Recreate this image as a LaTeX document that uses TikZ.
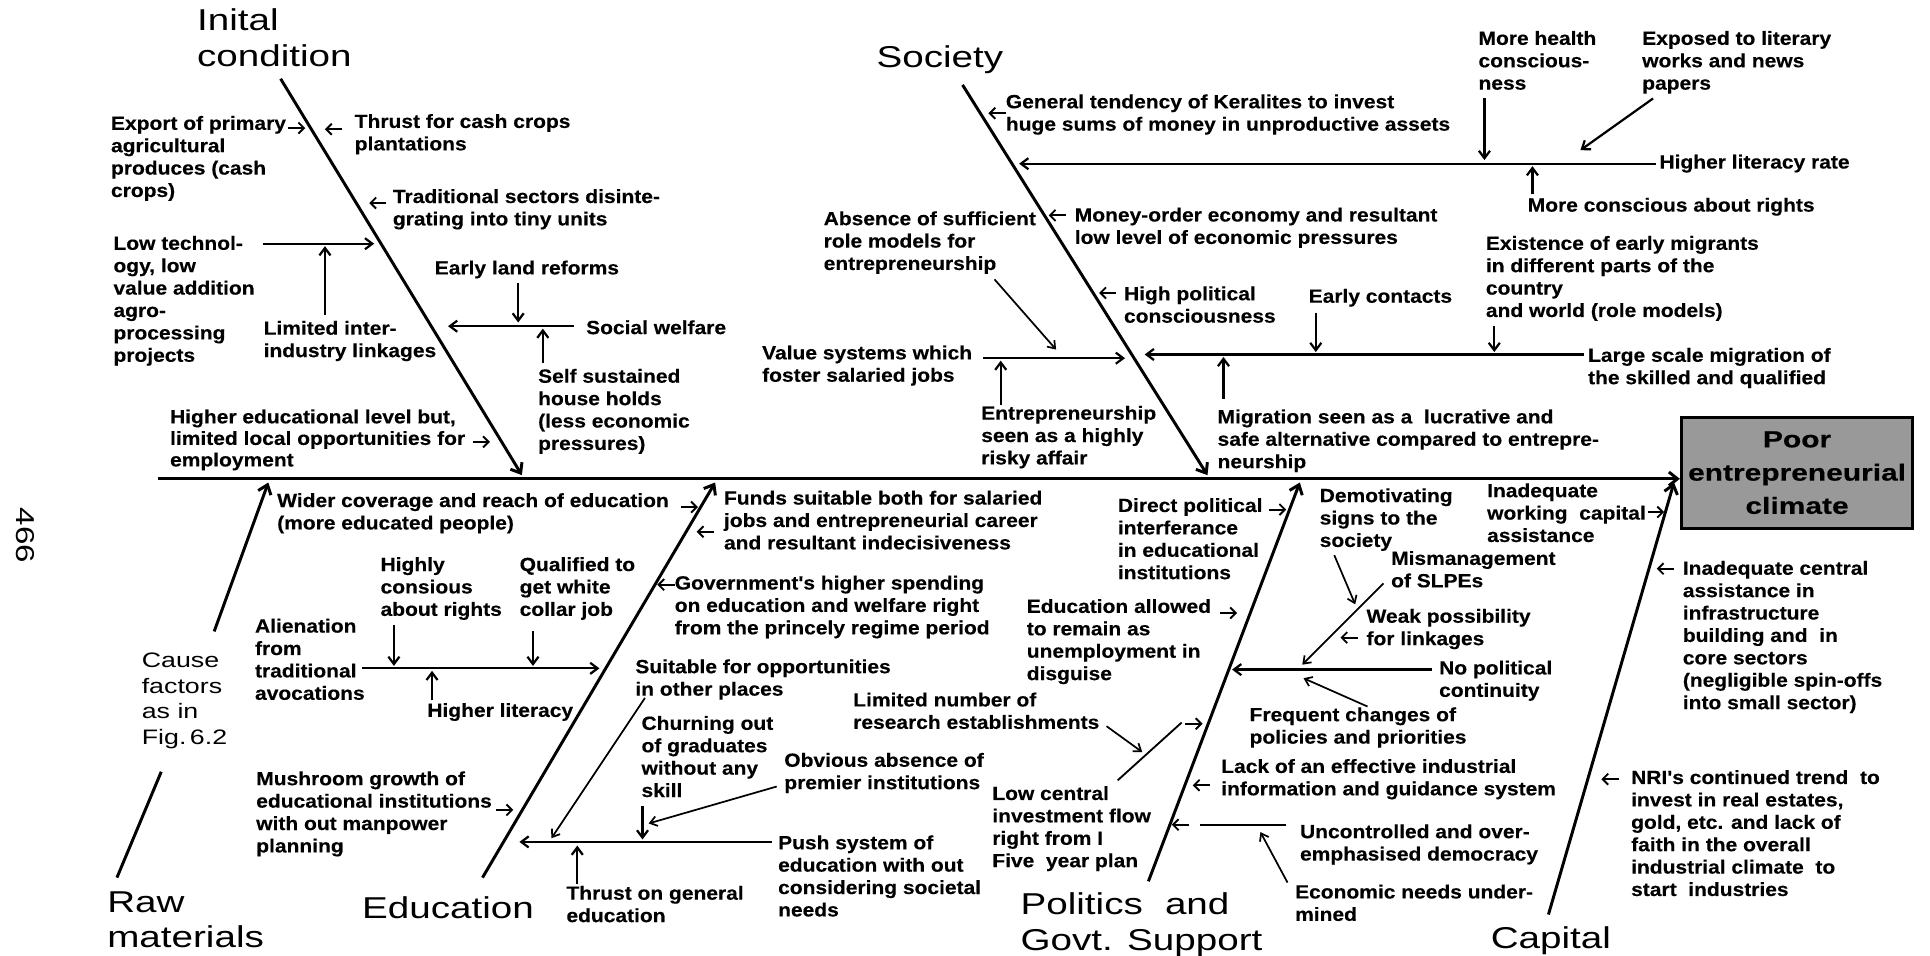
\documentclass[tikz,border=0pt]{standalone}
\usepackage{fontspec}
\usetikzlibrary{arrows.meta}
\newfontfamily\lblface{Liberation Sans Bold}[FakeStretch=1.1,FakeBold=0.3]
\newfontfamily\ttlface{Liberation Sans}[FakeStretch=1.28]
\newfontfamily\boxface{Liberation Sans Bold}[FakeStretch=1.28,FakeBold=0.4]
% a connector between two named end points
\newcommand\fishlink[4]{\coordinate (#2-s) at #3; \coordinate (#2-e) at #4; \draw[#1] (#2-s) -- (#2-e);}
\tikzset{
  lbl/.style={font={\lblface\fontsize{15.5}{18.2}\selectfont}, align=left, inner sep=0pt, anchor=north west},
  ttl/.style={font={\ttlface\fontsize{24.5}{29}\selectfont}, align=left, inner sep=0pt, anchor=north west},
  cause/.style={font={\ttlface\fontsize{17}{21}\selectfont}, align=left, inner sep=0pt, anchor=north west},
  bone/.style={line width=2.4pt, -{Straight Barb[length=7pt,width=11pt]}},
  boneline/.style={line width=2.4pt},
  sub/.style={line width=1.8pt, -{Straight Barb[length=6pt,width=9pt]}},
  subline/.style={line width=1.5pt},
  thin/.style={line width=1.4pt, -{Straight Barb[length=5.5pt,width=8pt]}},
  tick/.style={line width=1.5pt, -{Straight Barb[length=4.5pt,width=9pt]}},
}
\begin{document}
\begin{tikzpicture}[x=1pt,y=-1pt]
\useasboundingbox (0,0) rectangle (1568,776);
\fill[white] (0,0) rectangle (1568,776);

% effect box and spine
\node[draw, line width=2.4pt, fill=black!40, minimum width=188pt, minimum height=90pt, inner sep=0pt,
      font={\boxface\fontsize{19}{27}\selectfont}, align=center] (effect) at (1460,384)
      {Poor\\entrepreneurial\\climate};
\coordinate (spL) at (128,389);
\draw[bone] (spL) -- (effect.west |- spL);

\node[font={\ttlface\fontsize{21}{21}\selectfont}, rotate=-90, inner sep=0pt] (pageno) at (21,435) {466};

% main bones
\fishlink{bone}{boneIC}{(228,64)}{(424,386)}
\fishlink{bone}{boneSo}{(782,69)}{(981,386)}
\fishlink{bone}{boneRaw}{(174,513)}{(218,392)}
\fishlink{boneline}{boneRaw2}{(131,627)}{(95,713)}
\fishlink{bone}{boneEd}{(392,713)}{(581,392)}
\fishlink{bone}{bonePo}{(933,716)}{(1056,392)}
\fishlink{bone}{boneCa}{(1258,743)}{(1360,392)}

% category titles
\node[ttl] (tIC) at (160,7) {Inital\\condition};
\node[ttl] (tSo) at (712,37) {Society};
\node[ttl] (tRaw) at (87,724) {Raw\\materials};
\node[ttl] (tEd) at (294,728) {Education};
\node[ttl] (tPo) at (829,725) {Politics\hspace{18pt}and\\Govt. Support};
\node[ttl] (tCa) at (1211,753) {Capital};
\node[cause] (tCause) at (115,530) {Cause\\factors\\as in\\Fig.\,6.2};

% initial condition
\node[lbl] (iExport) at (90,94) {Export of primary\\agricultural\\produces (cash\\crops)};
\fishlink{tick}{aExp}{(234,104)}{(248,104)}
\node[lbl] (iThrust) at (288,92.5) {Thrust for cash crops\\plantations};
\fishlink{tick}{aThr}{(278,105)}{(264,105)}
\node[lbl] (iTrad) at (319,153.5) {Traditional sectors disinte-\\grating into tiny units};
\fishlink{tick}{aTrad}{(314,165)}{(300,165)}
\node[lbl] (iLow) at (92,191.5) {Low technol-\\ogy, low\\value addition\\agro-\\processing\\projects};
\fishlink{sub}{bLow}{(214,198)}{(304,198)}
\fishlink{sub}{aLink}{(264,256)}{(264,200)}
\node[lbl] (iLink) at (214,260.5) {Limited inter-\\industry linkages};
\node[lbl] (iLand) at (353,211.5) {Early land reforms};
\fishlink{sub}{aLand}{(421,230)}{(421,262)}
\fishlink{sub}{bWelf}{(466,265)}{(364,265)}
\node[lbl] (iWelf) at (476,260) {Social welfare};
\fishlink{sub}{aSelf}{(441,295)}{(441,267)}
\node[lbl] (iSelf) at (437,299.5) {Self sustained\\house holds\\(less economic\\pressures)};
\node[lbl, font={\lblface\fontsize{15.5}{17.5}\selectfont}] (iHigh) at (138,332.5)
  {Higher educational level but,\\limited local opportunities for\\employment};
\fishlink{tick}{aHigh}{(384,359)}{(398,359)}

% society
\node[lbl] (sGen) at (817,76.5) {General tendency of Keralites to invest\\huge sums of money in unproductive assets};
\fishlink{tick}{aGen}{(817,92)}{(803,92)}
\fishlink{sub}{bLit}{(1345,133)}{(828,133)}
\node[lbl] (sLit) at (1348,125.5) {Higher literacy rate};
\node[lbl] (sHealth) at (1201,25) {More health\\conscious-\\ness};
\fishlink{sub}{aHealth}{(1206,80)}{(1206,130)}
\node[lbl] (sExp) at (1334,25) {Exposed to literary\\works and news\\papers};
\fishlink{sub}{aExp2}{(1343,80)}{(1284,122)}
\fishlink{sub}{aRights}{(1245,158)}{(1245,135)}
\node[lbl] (sRights) at (1241,160.5) {More conscious about rights};
\node[lbl] (sMoney) at (873,168.5) {Money-order economy and resultant\\low level of economic pressures};
\fishlink{tick}{aMoney}{(866,175)}{(852,175)}
\node[lbl] (sAbs) at (669,171.5) {Absence of sufficient\\role models for\\entrepreneurship};
\fishlink{thin}{aAbs}{(808,227)}{(858,284)}
\node[lbl] (sPol) at (913,232.5) {High political\\consciousness};
\fishlink{tick}{aPol}{(907,238)}{(893,238)}
\node[lbl] (sVal) at (619,280.5) {Value systems which\\foster salaried jobs};
\fishlink{sub}{bVal}{(799,291)}{(914,291)}
\fishlink{sub}{aEnt}{(813,329)}{(813,293)}
\node[lbl] (sEnt) at (797,329.5) {Entrepreneurship\\seen as a highly\\risky affair};
\fishlink{sub}{bMig}{(1287,288)}{(930,288)}
\node[lbl] (sMig) at (1290,282.5) {Large scale migration of\\the skilled and qualified};
\node[lbl] (sCont) at (1063,234.5) {Early contacts};
\fishlink{sub}{aCont}{(1069,254)}{(1069,286)}
\node[lbl] (sExist) at (1207,191.5) {Existence of early migrants\\in different parts of the\\country\\and world (role models)};
\fishlink{sub}{aExist}{(1214,265)}{(1214,286)}
\fishlink{sub}{aLucr}{(994,324)}{(994,290)}
\node[lbl] (sLucr) at (989,332.5) {Migration seen as a\ \ lucrative and\\safe alternative compared to entrepre-\\neurship};

% education
\node[lbl] (eWide) at (225,400.5) {Wider coverage and reach of education\\(more educated people)};
\fishlink{tick}{aWide}{(553,412)}{(567,412)}
\node[lbl] (eHighly) at (309,452.5) {Highly\\consious\\about rights};
\fishlink{sub}{aHighly}{(320,508)}{(320,541)}
\node[lbl] (eQual) at (422,452.5) {Qualified to\\get white\\collar job};
\fishlink{sub}{aQual}{(433,513)}{(433,541)}
\fishlink{sub}{bAlien}{(294,543)}{(487,543)}
\node[lbl] (eAlien) at (207,502.5) {Alienation\\from\\traditional\\avocations};
\fishlink{sub}{aLit}{(351,569)}{(351,545)}
\node[lbl] (eLit) at (347,571) {Higher literacy};
\node[lbl] (eMush) at (208,626.5) {Mushroom growth of\\educational institutions\\with out manpower\\planning};
\fishlink{tick}{aMush}{(403,658)}{(417,658)}
\fishlink{sub}{bPush}{(627,684)}{(422,684)}
\node[lbl] (ePush) at (632,678.5) {Push system of\\education with out\\considering societal\\needs};
\fishlink{sub}{aThr2}{(469,718)}{(469,687)}
\node[lbl] (eThr) at (460,719.5) {Thrust on general\\education};
\node[lbl] (eChurn) at (521,581.5) {Churning out\\of graduates\\without any\\skill};
\fishlink{sub}{aChurn}{(522,655)}{(522,682)}
\node[lbl] (eObv) at (637,611.5) {Obvious absence of\\premier institutions};
\fishlink{thin}{aObv}{(631,639)}{(527,669)}
\node[lbl] (eSuit) at (516,535.5) {Suitable for opportunities\\in other places};
\fishlink{thin}{aSuit}{(524,567)}{(448,681)}
\node[lbl] (eFunds) at (588,398.5) {Funds suitable both for salaried\\jobs and entrepreneurial career\\and resultant indecisiveness};
\fishlink{tick}{aFunds}{(580,432)}{(566,432)}
\node[lbl] (eGov) at (548,467.5) {Government's higher spending\\on education and welfare right\\from the princely regime period};
\fishlink{tick}{aGov}{(548,475)}{(534,475)}

% politics and government support
\node[lbl] (pDir) at (908,404.5) {Direct political\\interferance\\in educational\\institutions};
\fishlink{tick}{aDir}{(1031,414)}{(1045,414)}
\node[lbl] (pEdu) at (834,486.5) {Education allowed\\to remain as\\unemployment in\\disguise};
\fishlink{tick}{aEdu}{(991,498)}{(1005,498)}
\node[lbl] (pRes) at (693,562.5) {Limited number of\\research establishments};
\fishlink{thin}{aRes}{(899,590)}{(928,611)}
\fishlink{subline}{bInv}{(908,634)}{(960,587)}
\fishlink{tick}{aInv}{(963,588)}{(977,588)}
\node[lbl] (pInv) at (806,638.5) {Low central\\investment flow\\right from I\\Five\ \ year plan};
\node[lbl] (pLack) at (992,616.5) {Lack of an effective industrial\\information and guidance system};
\fishlink{tick}{aLack}{(983,638)}{(969,638)}
\fishlink{subline}{bDem}{(1045,670)}{(975,670)}
\fishlink{tick}{aDem}{(966,670)}{(952,670)}
\node[lbl] (pDem) at (1056,669.5) {Uncontrolled and over-\\emphasised democracy};
\fishlink{thin}{aEcon}{(1046,717)}{(1024,676)}
\node[lbl] (pEcon) at (1052,718.5) {Economic needs under-\\mined};
\fishlink{sub}{bCont}{(1163,544)}{(1001,544)}
\node[lbl] (pCont) at (1169,536.5) {No political\\continuity};
\node[lbl] (pFreq) at (1015,574.5) {Frequent changes of\\policies and priorities};
\fishlink{thin}{aFreq}{(1111,574)}{(1059,551)}
\node[lbl] (pDemo) at (1072,396.5) {Demotivating\\signs to the\\society};
\fishlink{thin}{aDemo}{(1084,451)}{(1101,491)}
\node[lbl] (pMis) at (1130,447.5) {Mismanagement\\of SLPEs};
\fishlink{thin}{aMis}{(1124,474)}{(1058,540)}
\node[lbl] (pWeak) at (1110,494.5) {Weak possibility\\for linkages};
\fishlink{tick}{aWeak}{(1103,518)}{(1089,518)}

% capital
\node[lbl] (cWork) at (1208,392.5) {Inadequate\\working\ \ capital\\assistance};
\fishlink{tick}{aWork}{(1339,416)}{(1352,416)}
\node[lbl] (cCent) at (1367,455.5) {Inadequate central\\assistance in\\infrastructure\\building and\ \ in\\core sectors\\(negligible spin-offs\\into small sector)};
\fishlink{tick}{aCent}{(1360,462)}{(1346,462)}
\node[lbl] (cNRI) at (1325,625.5) {NRI's continued trend\ \ to\\invest in real estates,\\gold, etc. and lack of\\faith in the overall\\industrial climate\ \ to\\start\ \ industries};
\fishlink{tick}{aNRI}{(1315,633)}{(1301,633)}
\end{tikzpicture}
\end{document}
